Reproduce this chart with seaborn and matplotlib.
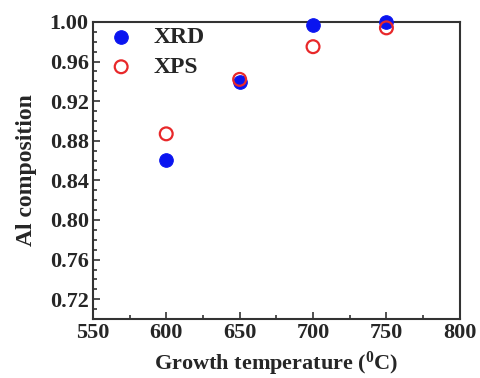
import matplotlib
matplotlib.use("Agg")
import matplotlib.pyplot as plt
from matplotlib.ticker import MultipleLocator, FormatStrFormatter
import pandas as pd
import seaborn as sns

# --- Data ---
temperature = [600, 650, 700, 750]
xrd_al = [0.861, 0.939, 0.997, 1.000]
xps_al = [0.887, 0.942, 0.975, 0.994]

XRD_COLOR = "#0a14f0"
XPS_COLOR = "#e8282a"

sns.set_style("ticks")
plt.rcParams['font.family'] = ['Liberation Serif', 'DejaVu Serif']
plt.rcParams['font.weight'] = 'bold'
plt.rcParams['mathtext.fontset'] = 'custom'
plt.rcParams['mathtext.rm'] = 'Liberation Serif:bold'
plt.rcParams['mathtext.default'] = 'rm'

df = pd.DataFrame({'temp': temperature, 'XRD': xrd_al, 'XPS': xps_al})

fig = plt.figure(figsize=(4.81, 3.78), dpi=100)
ax = fig.add_axes([0.193, 0.156, 0.763, 0.786])

sns.scatterplot(data=df, x='temp', y='XRD', ax=ax, color=XRD_COLOR,
                edgecolor=XRD_COLOR, s=95, marker='o', label='XRD',
                clip_on=False, zorder=3)
sns.scatterplot(data=df, x='temp', y='XPS', ax=ax, facecolors='none',
                edgecolor=XPS_COLOR, linewidth=1.6, s=85, marker='o',
                label='XPS', clip_on=False, zorder=4)

ax.set_xlim(550, 800)
ax.set_ylim(0.70, 1.00)
ax.xaxis.set_major_locator(MultipleLocator(50))
ax.xaxis.set_minor_locator(MultipleLocator(25))
ax.yaxis.set_minor_locator(MultipleLocator(0.01))
ax.yaxis.set_major_formatter(FormatStrFormatter('%.2f'))
ax.set_yticks([0.72, 0.76, 0.80, 0.84, 0.88, 0.92, 0.96, 1.00])

ax.tick_params(which='both', direction='in', top=False, right=False,
               labelsize=16, color='#333333', width=1.2)
ax.tick_params(which='major', length=5, pad=3)
ax.tick_params(which='minor', length=3)
for lab in ax.get_xticklabels() + ax.get_yticklabels():
    lab.set_fontweight('bold')

for sp in ax.spines.values():
    sp.set_linewidth(1.5)
    sp.set_color('#333333')

ax.set_xlabel(r"Growth temperature ($^{0}$C)", fontsize=16, fontweight='bold', labelpad=5)
ax.set_ylabel("Al composition", fontsize=17, fontweight='bold', labelpad=9)

leg = ax.legend(loc='upper left', frameon=False,
                handletextpad=0.38, borderaxespad=0.05, labelspacing=0.35,
                borderpad=0.15, prop={'weight': 'bold', 'size': 17})

plt.savefig("out.png", dpi=100)
plt.close()
